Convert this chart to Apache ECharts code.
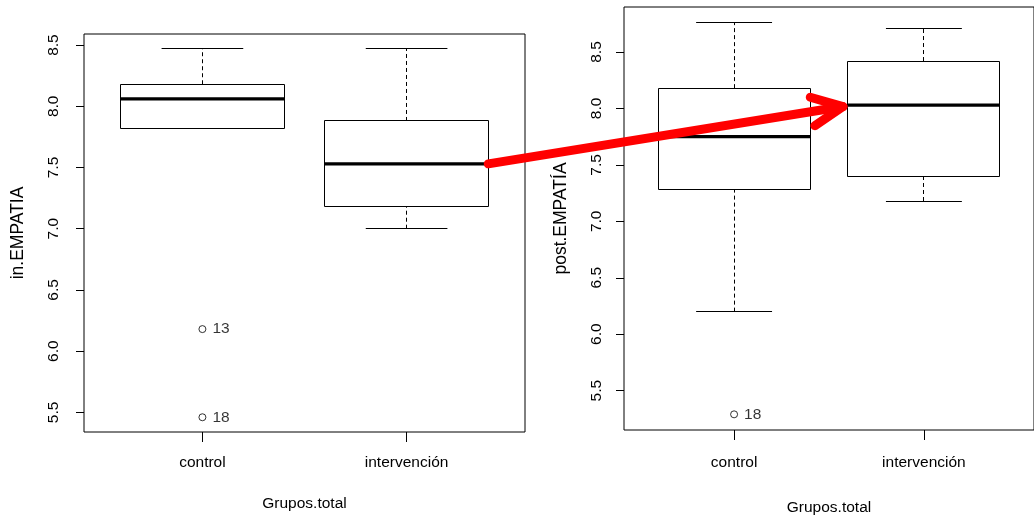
<!DOCTYPE html>
<html><head><meta charset="utf-8">
<script src="https://cdn.jsdelivr.net/npm/echarts@6/dist/echarts.min.js"></script>
<style>html,body{margin:0;padding:0;background:#fff}#c{width:1034px;height:521px}</style>
</head><body><div id="c"></div>
<script>
// ---- data ----
const categories = ['control', 'intervención'];
const yTicks = [5.5, 6.0, 6.5, 7.0, 7.5, 8.0, 8.5];
// [lowerWhisker, Q1, median, Q3, upperWhisker]
const preControl = [7.82, 7.82, 8.06, 8.18, 8.47];
const preIntervencion = [7.00, 7.18, 7.53, 7.88, 8.47];
const preOutlierValues = [6.18, 5.46];
const preOutlierIds = ['13', '18'];
const postControl = [6.20, 7.28, 7.75, 8.18, 8.76];
const postIntervencion = [7.18, 7.40, 8.03, 8.42, 8.71];
const postOutlierValues = [5.29];
const postOutlierIds = ['18'];

const FONT = 'Liberation Sans, Arial, sans-serif';
const FS = 15.5;
const BOXWEX = 0.8;

function rng(arrs) {
  const all = [].concat(...arrs);
  const lo = Math.min(...all), hi = Math.max(...all);
  const d = (hi - lo) * 0.04;
  return [lo - d, hi + d];
}
const preRange = rng([preControl, preIntervencion, preOutlierValues]);
const postRange = rng([postControl, postIntervencion, postOutlierValues]);

const crisp = v => Math.round(v - 0.5) + 0.5;

function renderBox(params, api) {
  const x = api.value(0);
  const lo = api.value(1), q1 = api.value(2), med = api.value(3), q3 = api.value(4), hi = api.value(5);
  const half = api.size([BOXWEX, 0])[0] / 2;
  const capHalf = half / 2;
  const cx = api.coord([x, med])[0];
  const Y = v => api.coord([x, v])[1];
  const c = crisp(cx);
  const ln = { stroke: '#000', lineWidth: 1 };
  const kids = [];
  if (hi > q3) kids.push({ type: 'line', shape: { x1: c, y1: Y(q3), x2: c, y2: Y(hi) }, style: Object.assign({ lineDash: [4, 3] }, ln) });
  if (q1 > lo) kids.push({ type: 'line', shape: { x1: c, y1: Y(lo), x2: c, y2: Y(q1) }, style: Object.assign({ lineDash: [4, 3] }, ln) });
  kids.push({ type: 'line', shape: { x1: cx - capHalf, y1: crisp(Y(hi)), x2: cx + capHalf, y2: crisp(Y(hi)) }, style: ln });
  kids.push({ type: 'line', shape: { x1: cx - capHalf, y1: crisp(Y(lo)), x2: cx + capHalf, y2: crisp(Y(lo)) }, style: ln });
  const l = crisp(cx - half), r = crisp(cx + half), t = crisp(Y(q3)), b = crisp(Y(q1));
  kids.push({ type: 'rect', shape: { x: l, y: t, width: r - l, height: b - t }, style: { fill: 'none', stroke: '#000', lineWidth: 1 } });
  kids.push({ type: 'line', shape: { x1: l, y1: Y(med), x2: r, y2: Y(med) }, style: { stroke: '#000', lineWidth: 3.2 } });
  return { type: 'group', children: kids };
}

const txt = { color: '#000', fontFamily: FONT, fontSize: FS };
const ytxt = { color: '#000', fontFamily: FONT, fontSize: 17.5 };

function xAxis(gi, labelMargin, nameGap) {
  return {
    type: 'value', gridIndex: gi, min: 0.5 - 0.08, max: 2.5 + 0.08,
    name: 'Grupos.total', nameLocation: 'middle', nameGap: nameGap, nameTextStyle: txt,
    axisLine: { show: false }, splitLine: { show: false },
    axisTick: { show: true, customValues: [1, 2], length: 10, lineStyle: { color: '#000', width: 1 } },
    axisLabel: Object.assign({ show: true, customValues: [1, 2], margin: labelMargin, formatter: v => categories[Math.round(v) - 1] }, txt)
  };
}
function yAxis(gi, range, name, labelMargin, nameGap) {
  return {
    type: 'value', gridIndex: gi, min: range[0], max: range[1],
    name: name, nameLocation: 'middle', nameRotate: 90, nameGap: nameGap, nameTextStyle: ytxt,
    axisLine: { show: false }, splitLine: { show: false },
    axisTick: { show: true, customValues: yTicks, length: 8, lineStyle: { color: '#000', width: 1 } },
    axisLabel: Object.assign({ show: true, customValues: yTicks, rotate: 90, margin: labelMargin, formatter: v => v.toFixed(1) }, txt)
  };
}
function outliers(gi, vals, ids) {
  return {
    type: 'scatter', xAxisIndex: gi, yAxisIndex: gi,
    data: vals.map((v, i) => [1, v, ids[i]]),
    symbol: 'circle', symbolSize: 7,
    itemStyle: { color: '#fff', borderColor: '#000', borderWidth: 1 },
    label: Object.assign({ show: true, position: 'right', distance: 6, formatter: p => p.data[2] }, txt),
    z: 5
  };
}

const chart = echarts.init(document.getElementById('c'), null, { renderer: 'canvas' });
const option = {
  animation: false,
  backgroundColor: '#fff',
  grid: [
    { left: 84, top: 34, width: 441, height: 398, show: true, borderColor: '#000', borderWidth: 1, backgroundColor: 'transparent' },
    { left: 624, top: 7, width: 423, height: 425, show: true, borderColor: '#000', borderWidth: 1, backgroundColor: 'transparent' }
  ],
  xAxis: [xAxis(0, 23, 64), xAxis(1, 25, 70)],
  yAxis: [yAxis(0, preRange, 'in.EMPATIA', 22, 57), yAxis(1, postRange, 'post.EMPATÍA', 19, 54)],
  series: [
    { type: 'custom', xAxisIndex: 0, yAxisIndex: 0, renderItem: renderBox, encode: { x: 0, y: [1, 2, 3, 4, 5] },
      data: [[1].concat(preControl), [2].concat(preIntervencion)] },
    outliers(0, preOutlierValues, preOutlierIds),
    { type: 'custom', xAxisIndex: 1, yAxisIndex: 1, renderItem: renderBox, encode: { x: 0, y: [1, 2, 3, 4, 5] },
      data: [[1].concat(postControl), [2].concat(postIntervencion)] },
    outliers(1, postOutlierValues, postOutlierIds)
  ]
};
chart.setOption(option);

// red arrow annotation: from pre-intervention median to post-intervention median
const p0 = chart.convertToPixel({ gridIndex: 0 }, [2 + BOXWEX / 2, preIntervencion[2]]);
const p1 = chart.convertToPixel({ gridIndex: 1 }, [2 - BOXWEX / 2, postIntervencion[2]]);
const tip = [p1[0] - 5, p1[1] + 1.5];
const back = Math.atan2(p0[1] - tip[1], p0[0] - tip[0]);
const L = 34, A = 25 * Math.PI / 180;
const b1 = [tip[0] + L * Math.cos(back - A), tip[1] + L * Math.sin(back - A)];
const b2 = [tip[0] + L * Math.cos(back + A), tip[1] + L * Math.sin(back + A)];
chart.setOption({
  graphic: [
    { type: 'line', z: 100, shape: { x1: p0[0], y1: p0[1], x2: tip[0], y2: tip[1] }, style: { stroke: '#ff0000', lineWidth: 9, lineCap: 'round' } },
    { type: 'polyline', z: 100, shape: { points: [b1, tip, b2] }, style: { stroke: '#ff0000', lineWidth: 9, lineCap: 'round', lineJoin: 'round', fill: null } }
  ]
});
</script>
</body></html>
